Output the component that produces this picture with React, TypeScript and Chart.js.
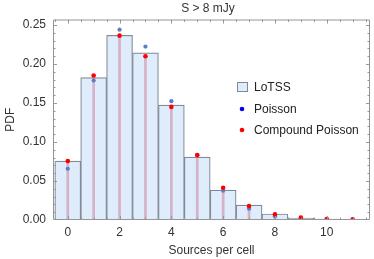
import React, { useEffect, useRef } from 'react';
import { Chart, registerables } from 'chart.js';

Chart.register(...registerables);

const counts = [0, 1, 2, 3, 4, 5, 6, 7, 8, 9, 10, 11];
const lotss = [0.0755, 0.1826, 0.2368, 0.2142, 0.1472, 0.0806, 0.0384, 0.0192, 0.0077, 0.0026, 0.0013, 0];
const poisson = [0.0657, 0.1788, 0.2440, 0.2223, 0.1523, 0.0830, 0.0375, 0.0145, 0.0047, 0.0015, 0.0004, 0.0001];
const compound = [0.0755, 0.1852, 0.2363, 0.2099, 0.1450, 0.0832, 0.0414, 0.0179, 0.0073, 0.0030, 0.0013, 0.0008];
const xTickLabels = [0, 2, 4, 6, 8, 10];
const yTickLabels = [0, 0.05, 0.1, 0.15, 0.2, 0.25];
const legendLabels = ['LoTSS', 'Poisson', 'Compound Poisson'];
const titleText = 'S > 8 mJy';
const xTitle = 'Sources per cell';
const yTitle = 'PDF';

const FONT = "'Liberation Sans', Arial, sans-serif";
const BAR_FILL = 'rgb(222,236,252)';
const BAR_BORDER = 'rgb(128,138,150)';
const FRAME = 'rgb(150,150,150)';
const TEXT = '#333';

const framePlugin = {
  id: 'frameTicks',
  afterDraw(chart: any) {
    const ctx = chart.ctx;
    const a = chart.chartArea;
    const xs = chart.scales.x;
    const ys = chart.scales.y;
    ctx.save();
    ctx.globalAlpha = 1;
    ctx.setLineDash([]);
    ctx.strokeStyle = FRAME;
    ctx.lineWidth = 1;
    ctx.beginPath();
    ctx.moveTo(a.left + 0.5, a.top + 0.5);
    ctx.lineTo(a.right - 0.5, a.top + 0.5);
    ctx.lineTo(a.right - 0.5, a.bottom - 0.5);
    ctx.lineTo(a.left + 0.5, a.bottom - 0.5);
    ctx.closePath();
    for (let i = -1; i <= 23; i++) {
      const v = i / 2;
      const px = Math.round(xs.getPixelForValue(v)) + 0.5;
      if (px <= a.left + 1 || px >= a.right - 1) continue;
      const len = i % 4 === 0 ? 4 : 2.5;
      ctx.moveTo(px, a.bottom);
      ctx.lineTo(px, a.bottom - len);
      ctx.moveTo(px, a.top);
      ctx.lineTo(px, a.top + len);
    }
    for (let i = 0; i <= 25; i++) {
      const v = i / 100;
      const py = Math.round(ys.getPixelForValue(v)) + 0.5;
      if (py <= a.top + 1 || py >= a.bottom - 1) continue;
      const len = i % 5 === 0 ? 4 : 2.5;
      ctx.moveTo(a.left, py);
      ctx.lineTo(a.left + len, py);
      ctx.moveTo(a.right, py);
      ctx.lineTo(a.right - len, py);
    }
    ctx.stroke();

    // title
    ctx.font = `12px ${FONT}`;
    ctx.textAlign = 'center';
    ctx.textBaseline = 'middle';
    ctx.fillStyle = TEXT;
    ctx.fillText(titleText, 208, 8.5);

    // legend
    const lx = 237;
    const ly = [87, 109, 130];
    ctx.textAlign = 'left';
    ctx.fillStyle = BAR_FILL;
    ctx.fillRect(lx + 0.5, ly[0] - 4.5, 10, 9);
    ctx.strokeStyle = BAR_BORDER;
    ctx.strokeRect(lx + 0.5, ly[0] - 4.5, 10, 9);
    ctx.fillStyle = 'rgb(0,0,255)';
    ctx.beginPath();
    ctx.arc(lx + 5, ly[1], 2.3, 0, Math.PI * 2);
    ctx.fill();
    ctx.fillStyle = 'rgb(255,0,0)';
    ctx.beginPath();
    ctx.arc(lx + 5, ly[2], 2.3, 0, Math.PI * 2);
    ctx.fill();
    ctx.fillStyle = '#222';
    legendLabels.forEach((t, i) => ctx.fillText(t, lx + 17, ly[i] + 1));
    ctx.restore();
  },
};

export default function App() {
  const ref = useRef<HTMLCanvasElement>(null);
  useEffect(() => {
    document.body.style.margin = '0';
    const canvas = ref.current!;
    const chart = new Chart(canvas, {
      type: 'bar',
      data: {
        datasets: [
          {
            type: 'scatter',
            label: 'Compound Poisson',
            data: counts.map((c, i) => ({ x: c, y: compound[i] })),
            backgroundColor: 'rgb(255,0,0)',
            borderColor: 'rgb(255,0,0)',
            pointRadius: 2.3,
            borderWidth: 0,
            order: 0,
          } as any,
          {
            type: 'scatter',
            label: 'Poisson',
            data: counts.map((c, i) => ({ x: c, y: poisson[i] })),
            backgroundColor: 'rgb(92,124,196)',
            borderColor: 'rgb(92,124,196)',
            pointRadius: 2.1,
            borderWidth: 0,
            order: 1,
          } as any,
          {
            type: 'bar',
            label: 'stems',
            data: counts.map((c, i) => ({ x: c, y: compound[i] })),
            backgroundColor: 'rgba(205,120,150,0.5)',
            borderWidth: 0,
            barThickness: 2,
            grouped: false,
            order: 2,
          } as any,
          {
            type: 'bar',
            label: 'LoTSS',
            data: counts.map((c, i) => ({ x: c, y: lotss[i] })),
            backgroundColor: BAR_FILL,
            borderColor: BAR_BORDER,
            borderWidth: 1.2,
            borderSkipped: false,
            barPercentage: 1,
            categoryPercentage: 1,
            grouped: false,
            order: 3,
          } as any,
        ],
      },
      options: {
        animation: false,
        responsive: false,
        devicePixelRatio: 1,
        layout: { padding: { left: 0, right: 2, top: 19.5, bottom: 0 } },
        plugins: {
          legend: { display: false },
          tooltip: { enabled: false },
          title: { display: false },
        },
        scales: {
          x: {
            type: 'linear',
            offset: false,
            min: -0.57,
            max: 11.67,
            grid: { display: false, drawTicks: false, tickLength: 0 },
            border: { display: false },
            afterBuildTicks: (s: any) => {
              s.ticks = xTickLabels.map((v) => ({ value: v }));
            },
            afterFit: (s: any) => {
              s.height = 39;
            },
            ticks: {
              color: TEXT,
              font: { family: FONT, size: 12 },
              padding: 5,
              maxRotation: 0,
              autoSkip: false,
              callback: (v: any) => String(v),
            },
            title: {
              display: true,
              text: xTitle,
              color: TEXT,
              font: { family: FONT, size: 12 },
              padding: { top: 4, bottom: 1 },
            },
          },
          y: {
            type: 'linear',
            min: 0,
            max: 0.257,
            grid: { display: false, drawTicks: false, tickLength: 0 },
            border: { display: false },
            afterBuildTicks: (s: any) => {
              s.ticks = yTickLabels.map((v) => ({ value: v }));
            },
            afterFit: (s: any) => {
              s.width = 53;
            },
            ticks: {
              color: TEXT,
              font: { family: FONT, size: 12 },
              padding: 7,
              autoSkip: false,
              callback: (v: any) => Number(v).toFixed(2),
            },
            title: {
              display: true,
              text: yTitle,
              color: TEXT,
              font: { family: FONT, size: 12 },
              padding: { top: 3, bottom: 0 },
            },
          },
        },
      },
      plugins: [framePlugin],
    } as any);
    return () => chart.destroy();
  }, []);
  return (
    <div style={{ width: 374, height: 259 }}>
      <canvas ref={ref} width={374} height={259} style={{ display: 'block' }} />
    </div>
  );
}
